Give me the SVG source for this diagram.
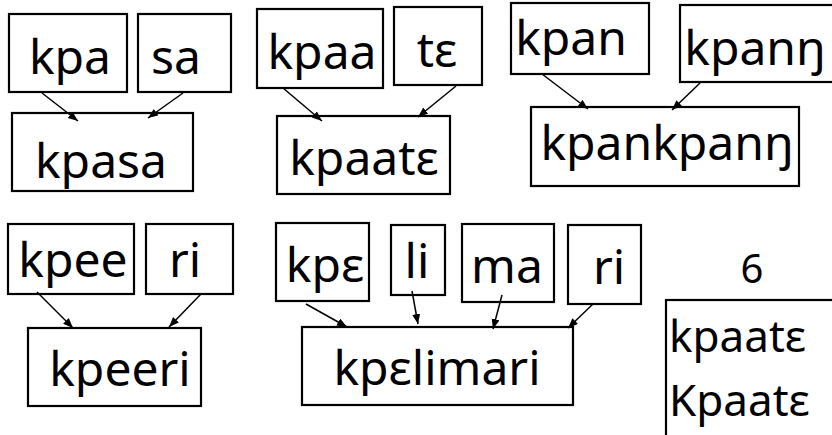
<svg xmlns="http://www.w3.org/2000/svg" width="832" height="435" viewBox="0 0 832 435">
<style>
.box{fill:#fff;stroke:#000;stroke-width:2.2}
.t{font-family:"Noto Sans","Open Sans","DejaVu Sans",sans-serif;font-size:48px;fill:#000;text-anchor:middle}
.s{font-family:"Noto Sans","Open Sans","DejaVu Sans",sans-serif;font-size:44px;fill:#000}
.c line{stroke:#000;stroke-width:1.5;marker-end:url(#ah)}
</style>
<defs>
<marker id="ah" markerUnits="userSpaceOnUse" markerWidth="12" markerHeight="10" refX="10" refY="4" orient="auto">
<path d="M0,0 L10,4 L0,8 Z" fill="#000"/>
</marker>
</defs>
<rect width="832" height="435" fill="#fff"/>
<g id="n-kpa"><rect class="box" x="9" y="14" width="118" height="78"/><text class="t" x="70" y="74">kpa</text></g>
<g id="n-sa"><rect class="box" x="138" y="14" width="93" height="78"/><text class="t" x="176" y="74">sa</text></g>
<g id="n-kpasa"><rect class="box" x="12" y="113" width="181" height="78"/><text class="t" x="101" y="178">kpasa</text></g>
<g id="n-kpaa"><rect class="box" x="257" y="9" width="126" height="79"/><text class="t" x="322" y="69">kpaa</text></g>
<g id="n-te"><rect class="box" x="394" y="7" width="88" height="78"/><text class="t" x="437" y="67">tɛ</text></g>
<g id="n-kpaate"><rect class="box" x="277" y="116" width="173" height="78"/><text class="t" x="364" y="175">kpaatɛ</text></g>
<g id="n-kpan"><rect class="box" x="511" y="3" width="138" height="71"/><text class="t" x="571" y="55">kpan</text></g>
<g id="n-kpanng"><rect class="box" x="680" y="5" width="170" height="77"/><text class="t" x="755" y="65">kpanŋ</text></g>
<g id="n-kpankpanng"><rect class="box" x="531" y="107" width="268" height="79"/><text class="t" x="667" y="160">kpankpanŋ</text></g>
<g id="n-kpee"><rect class="box" x="8" y="224" width="126" height="70"/><text class="t" x="73" y="277">kpee</text></g>
<g id="n-ri1"><rect class="box" x="146" y="224" width="87" height="70"/><text class="t" x="185" y="277">ri</text></g>
<g id="n-kpeeri"><rect class="box" x="28" y="328" width="173" height="78"/><text class="t" x="120" y="386">kpeeri</text></g>
<g id="n-kpe"><rect class="box" x="276" y="223" width="93" height="78"/><text class="t" x="325" y="282">kpɛ</text></g>
<g id="n-li"><rect class="box" x="391" y="225" width="54" height="70"/><text class="t" x="417" y="278">li</text></g>
<g id="n-ma"><rect class="box" x="462" y="224" width="92" height="78"/><text class="t" x="507" y="283">ma</text></g>
<g id="n-ri2"><rect class="box" x="568" y="225" width="73" height="79"/><text class="t" x="609" y="284">ri</text></g>
<g id="n-kpelimari"><rect class="box" x="302" y="327" width="271" height="78"/><text class="t" x="437" y="385">kpɛlimari</text></g>
<g id="n-6"><text class="t" x="752" y="283" style="font-size:40px">6</text></g>
<g id="n-list"><rect class="box" x="666" y="300" width="200" height="160"/><text class="s" x="669" y="352">kpaatɛ</text><text class="s" x="669" y="416">Kpaatɛ</text></g>
<g id="connectors" class="c">
<line x1="42" y1="93" x2="78" y2="121"/>
<line x1="183" y1="93" x2="148" y2="118"/>
<line x1="283" y1="88" x2="322" y2="121"/>
<line x1="456" y1="86" x2="418" y2="117"/>
<line x1="542" y1="74" x2="588" y2="109"/>
<line x1="700" y1="83" x2="672" y2="110"/>
<line x1="37" y1="292" x2="73" y2="328"/>
<line x1="201" y1="294" x2="169" y2="327"/>
<line x1="306" y1="304" x2="347" y2="327"/>
<line x1="412" y1="291" x2="418" y2="324"/>
<line x1="502" y1="295" x2="493" y2="329"/>
<line x1="593" y1="304" x2="568" y2="328"/>
</g>
</svg>
